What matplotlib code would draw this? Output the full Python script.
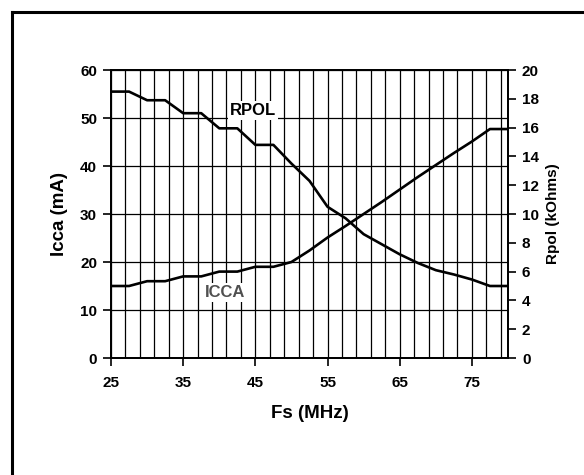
import matplotlib
matplotlib.use("Agg")
import matplotlib.pyplot as plt
from matplotlib.lines import Line2D

plt.rcParams['font.family'] = ['Liberation Sans', 'DejaVu Sans']
plt.rcParams['font.weight'] = 'bold'

# Data
fs_mhz = [25, 27.5, 30, 32.5, 35, 37.5, 40, 42.5, 45, 47.5, 50, 52.5, 55,
          57.5, 60, 62.5, 65, 67.5, 70, 72.5, 75, 77.5, 80]
icca_ma = [15, 15, 16, 16, 17, 17, 18, 18, 19, 19, 20, 22.4, 25.1,
           27.5, 30.0, 32.5, 35.1, 37.7, 40.2, 42.7, 45.1, 47.7, 47.7]
rpol_kohm = [18.5, 18.5, 17.9, 17.9, 17.0, 17.0, 15.95, 15.95, 14.8, 14.8,
             13.5, 12.3, 10.5, 9.7, 8.6, 7.9, 7.2, 6.6, 6.1, 5.8, 5.45, 5.0, 5.0]

x_ticks = [25, 35, 45, 55, 65, 75]
x_grid = list(range(25, 80, 2))
left_ticks = [0, 10, 20, 30, 40, 50, 60]
right_ticks = [0, 2, 4, 6, 8, 10, 12, 14, 16, 18, 20]

W, H = 584, 475
fig = plt.figure(figsize=(W / 100, H / 100), dpi=100)
fig.patch.set_facecolor('white')

l, r, t, b = 111, 508, 70, 358
ax = fig.add_axes([l / W, (H - b) / H, (r - l) / W, (b - t) / H])
ax2 = ax.twinx()

ax.set_xlim(25, 80)
ax.set_ylim(0, 60)
ax2.set_ylim(0, 20)

# grid
for xv in x_grid:
    ax.axvline(xv, color='black', lw=0.9, zorder=1)
for yv in left_ticks:
    ax.axhline(yv, color='black', lw=0.9, zorder=1)

ax.plot(fs_mhz, icca_ma, color='black', lw=1.9, zorder=3, solid_joinstyle='round')
ax2.plot(fs_mhz, rpol_kohm, color='black', lw=1.9, zorder=3, solid_joinstyle='round')

ax.set_xticks(x_ticks)
ax.set_yticks(left_ticks)
ax2.set_yticks(right_ticks)

ax.tick_params(axis='x', direction='out', length=6, width=1.2, pad=7, labelsize=11)
ax.tick_params(axis='y', direction='out', length=6, width=1.2, pad=4, labelsize=11)
ax2.tick_params(axis='y', direction='out', length=6, width=1.2, pad=4, labelsize=11)

for a in (ax, ax2):
    for s in a.spines.values():
        s.set_linewidth(1.3)
        s.set_color('black')

ax.set_xlabel('Fs (MHz)', fontsize=13.5, fontweight='bold', labelpad=11)
ax.set_ylabel('Icca (mA)', fontsize=13.5, fontweight='bold', labelpad=9)
ax2.set_ylabel('Rpol (kOhms)', fontsize=11, fontweight='bold', labelpad=5)

ax.text(44.7, 51.5, 'RPOL', fontsize=12, fontweight='bold', ha='center', va='center',
        zorder=5, bbox=dict(facecolor='white', edgecolor='none', pad=1.5))
ax.text(40.8, 13.6, 'ICCA', fontsize=12, fontweight='bold', ha='center', va='center',
        color='#505050', zorder=5, bbox=dict(facecolor='white', edgecolor='none', pad=1.5))

# outer frame (top and left edges)
fig.add_artist(Line2D([12 / W, 1.0], [(H - 12) / H, (H - 12) / H], color='black', lw=2.2,
                      transform=fig.transFigure))
fig.add_artist(Line2D([12 / W, 12 / W], [(H - 12) / H, 0.0], color='black', lw=2.2,
                      transform=fig.transFigure))

fig.savefig('out.png', dpi=100)
